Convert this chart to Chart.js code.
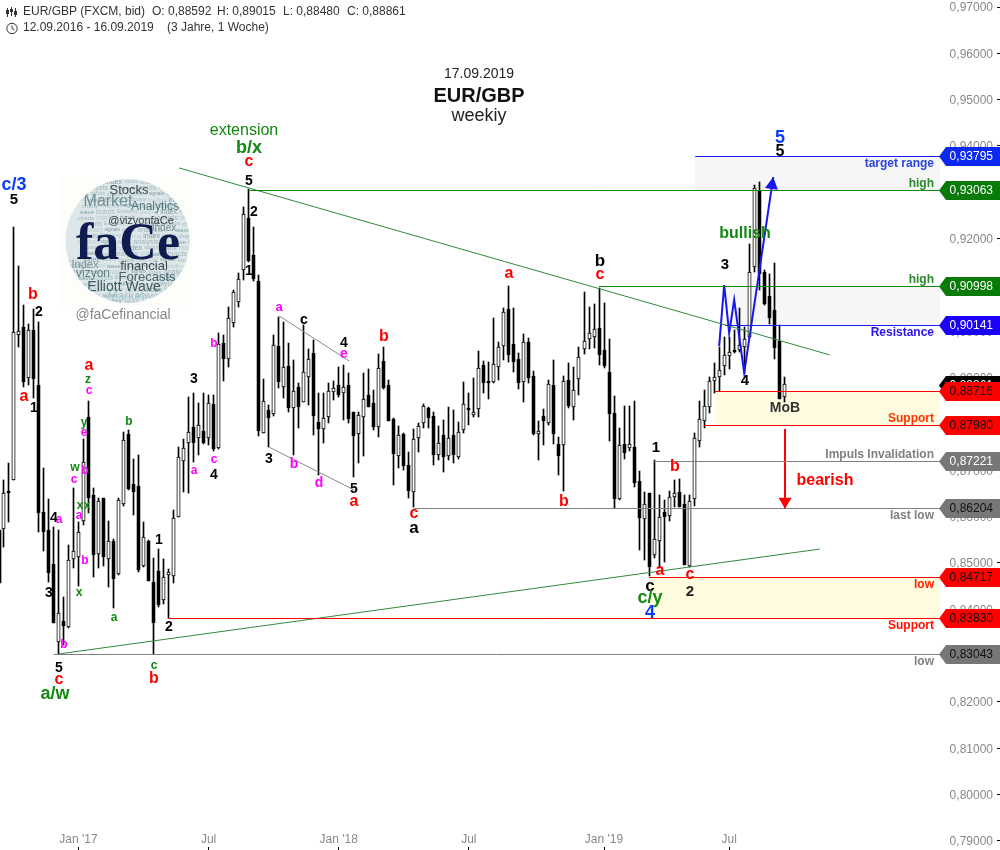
<!DOCTYPE html>
<html>
<head>
<meta charset="utf-8">
<title>EUR/GBP weekly</title>
<script src="https://cdn.jsdelivr.net/npm/chart.js@4/dist/chart.umd.min.js"></script>
<style>html,body{margin:0;padding:0;background:#fff}canvas{display:block}</style>
</head>
<body>
<canvas id="c" width="1000" height="850"></canvas>
<script>
const highs = [
0.8571,0.8679,0.8716,0.9226,0.9141,0.9057,0.9016,0.9049,0.9021,0.8705,
0.8638,0.8578,0.8571,0.8427,0.8539,0.8662,0.8589,0.8767,0.8850,0.8662,
0.8640,0.8640,0.8591,0.8552,0.8640,0.8783,0.8787,0.8725,0.8733,0.8589,
0.8550,0.8510,0.8530,0.8508,0.8487,0.8614,0.8750,0.8767,0.8858,0.8867,
0.8846,0.8867,0.8863,0.8863,0.8997,0.8992,0.9053,0.9089,0.9126,0.9269,
0.93063,0.9226,0.9122,0.8898,0.8841,0.8992,0.9031,0.9021,0.8975,0.8938,
0.8889,0.9014,0.8962,0.8981,0.8867,0.8867,0.8889,0.8893,0.8923,0.8927,
0.8911,0.8826,0.8826,0.8911,0.8919,0.8873,0.8951,0.8966,0.8895,0.8813,
0.8796,0.8780,0.8740,0.8789,0.8802,0.8843,0.8836,0.8826,0.8796,0.8809,
0.8836,0.8830,0.8804,0.8891,0.8867,0.8900,0.8958,0.8936,0.8934,0.9029,
0.8977,0.9051,0.9098,0.9051,0.8954,0.8995,0.8985,0.8915,0.8806,0.8832,
0.8895,0.8938,0.8772,0.8904,0.8932,0.8923,0.8966,0.9085,0.9053,0.9059,
0.9094,0.9062,0.8983,0.8860,0.8791,0.8839,0.8839,0.8850,0.8699,0.8653,
0.8651,0.8722,0.8646,0.8636,0.8655,0.8679,0.8681,0.8646,0.8646,0.8780,
0.8850,0.8873,0.8902,0.8932,0.8966,0.8988,0.8988,0.9003,0.9051,0.9010,
0.9188,0.9316,0.9322,0.9132,0.9124,0.9148,0.9014,0.89015];
const opens = [
0.8517,0.8574,0.8655,0.8679,0.8992,0.9010,0.8900,0.9003,0.8884,0.8610,
0.8571,0.8497,0.8330,0.8375,0.8362,0.8508,0.8513,0.8591,0.8815,0.8646,
0.8519,0.8640,0.8508,0.8548,0.8476,0.8627,0.8778,0.8670,0.8666,0.8493,
0.8548,0.8459,0.8483,0.8420,0.8474,0.8472,0.8599,0.8720,0.8759,0.8793,
0.8769,0.8785,0.8769,0.8843,0.8748,0.8975,0.8940,0.9018,0.9064,0.9132,
0.9245,0.9165,0.9109,0.8780,0.8830,0.8822,0.8969,0.8880,0.8925,0.8834,
0.8880,0.8848,0.8902,0.8954,0.8804,0.8789,0.8815,0.8869,0.8884,0.8867,
0.8884,0.8826,0.8778,0.8815,0.8863,0.8846,0.8793,0.8936,0.8884,0.8811,
0.8731,0.8778,0.8711,0.8653,0.8769,0.8802,0.8834,0.8817,0.8733,0.8776,
0.8731,0.8776,0.8729,0.8787,0.8834,0.8819,0.8832,0.8927,0.8893,0.8891,
0.8923,0.8969,0.9049,0.8973,0.8940,0.8891,0.8977,0.8904,0.8778,0.8817,
0.8802,0.8884,0.8757,0.8755,0.8895,0.8836,0.8898,0.8962,0.8983,0.8988,
0.9008,0.8960,0.8913,0.8824,0.8638,0.8757,0.8748,0.8750,0.8677,0.8595,
0.8651,0.8517,0.8548,0.8610,0.8601,0.8642,0.8653,0.8627,0.8493,0.8638,
0.8763,0.8806,0.8836,0.8893,0.8902,0.8925,0.8947,0.8960,0.8960,0.8966,
0.8988,0.9139,0.9303,0.9128,0.9076,0.9046,0.8979,0.88592];
const closes = [
0.8550,0.8651,0.8653,0.8999,0.9001,0.8891,0.9003,0.8898,0.8608,0.8567,
0.8479,0.8371,0.8392,0.8364,0.8506,0.8526,0.8567,0.8718,0.8640,0.8517,
0.8634,0.8513,0.8548,0.8465,0.8636,0.8765,0.8659,0.8653,0.8485,0.8556,
0.8461,0.8371,0.8409,0.8470,0.8481,0.8597,0.8729,0.8748,0.8783,0.8759,
0.8798,0.8759,0.8846,0.8746,0.8973,0.8940,0.9029,0.9085,0.9113,0.9253,
0.9152,0.9113,0.8785,0.8850,0.8813,0.8971,0.8891,0.8923,0.8834,0.8871,
0.8836,0.8913,0.8940,0.8817,0.8789,0.8813,0.8871,0.8878,0.8863,0.8880,
0.8811,0.8774,0.8819,0.8854,0.8836,0.8793,0.8921,0.8878,0.8806,0.8735,
0.8776,0.8709,0.8655,0.8767,0.8796,0.8839,0.8813,0.8733,0.8759,0.8729,
0.8769,0.8733,0.8783,0.8843,0.8832,0.8826,0.8921,0.8889,0.8889,0.8930,
0.8966,0.9042,0.8949,0.8934,0.8889,0.8977,0.8900,0.8778,0.8785,0.8806,
0.8887,0.8778,0.8731,0.8893,0.8839,0.8873,0.8945,0.8979,0.8997,0.9005,
0.8949,0.8925,0.8822,0.8638,0.8754,0.8737,0.8757,0.8672,0.8597,0.8627,
0.8491,0.8552,0.8599,0.8599,0.8642,0.8651,0.8621,0.8495,0.8634,0.8769,
0.8811,0.8839,0.8893,0.8902,0.8917,0.8949,0.8956,0.8956,0.8971,0.8983,
0.9128,0.9309,0.9124,0.9059,0.9029,0.8964,0.8854,0.88861];
const lows = [
0.8457,0.8535,0.8589,0.8678,0.8966,0.8880,0.8884,0.8856,0.8567,0.8526,
0.8459,0.8370,0.8304,0.8323,0.8360,0.8489,0.8450,0.8582,0.8608,0.8470,
0.8489,0.8493,0.8448,0.8403,0.8474,0.8623,0.8657,0.8603,0.8481,0.8491,
0.8461,0.8304,0.8405,0.8411,0.8381,0.8457,0.8599,0.8653,0.8651,0.8718,
0.8733,0.8757,0.8754,0.8742,0.8746,0.8893,0.8923,0.9010,0.9053,0.9111,
0.9150,0.9109,0.8774,0.8780,0.8750,0.8817,0.8878,0.8856,0.8826,0.8733,
0.8791,0.8848,0.8841,0.8776,0.8690,0.8759,0.8802,0.8852,0.8858,0.8809,
0.8802,0.8686,0.8716,0.8731,0.8836,0.8787,0.8772,0.8876,0.8806,0.8668,
0.8705,0.8701,0.8640,0.8621,0.8740,0.8791,0.8791,0.8711,0.8722,0.8696,
0.8722,0.8716,0.8725,0.8780,0.8798,0.8815,0.8815,0.8867,0.8854,0.8889,
0.8895,0.8938,0.8934,0.8913,0.8876,0.8848,0.8889,0.8776,0.8722,0.8755,
0.8798,0.8757,0.8690,0.8655,0.8834,0.8809,0.8863,0.8951,0.8962,0.8964,
0.8927,0.8921,0.8763,0.8619,0.8636,0.8725,0.8742,0.8664,0.8528,0.8506,
0.8472,0.8510,0.8489,0.8502,0.8591,0.8621,0.8621,0.8495,0.8491,0.8623,
0.8750,0.8791,0.8824,0.8867,0.8871,0.8906,0.8919,0.8954,0.8956,0.8911,
0.8985,0.9128,0.9089,0.9057,0.9016,0.8940,0.8854,0.8848];

const xTickBars = [16,42,68,94,121,146];
const xTickNames = ["Jan '17","Jul","Jan '18","Jul","Jan '19","Jul"];
const yTicks = [0.79,0.80,0.81,0.82,0.83,0.84,0.85,0.86,0.87,0.88,0.89,0.90,0.91,0.92,0.93,0.94,0.95,0.96,0.97];

const levelPrices = [0.93795,0.93063,0.90998,0.90141,0.88716,0.87980,0.87221,0.86204,0.84717,0.83830,0.83043];
const levelStarts = [139.2,50,120,145.2,143.2,141,131,83,130,34,11];
const levelEnd = 188.1;
const levelColors = ['#1a1aff','#0a8a0a','#0a8a0a','#1a1aff','#ff0000','#ff0000','#808080','#808080','#ff0000','#ff0000','#808080'];
const levelTagFill = ['#0a28f0','#087a08','#087a08','#1a00f5','#ff0000','#ff0000','#777777','#777777','#ff0000','#ff0000','#777777'];
const levelTagText = ['#fff','#fff','#fff','#fff','#111','#111','#fff','#111','#111','#111','#111'];
const levelNotes = ['target range','high','high','Resistance','','Support','Impuls Invalidation','last low','low','Support','low'];
const noteColors = ['#2a44e0','#2b8a2b','#2b8a2b','#2a12ee','#ff3300','#ff3300','#808080','#808080','#ff2200','#ff1100','#808080'];
const noteOffsets = [7,-7,-7,7,0,-7,-7,7,7,7,7];

const zones = [
  {from:139.2,to:188.1,top:0.93795,bottom:0.93063,color:'#f6f6f6'},
  {from:145.2,to:188.1,top:0.90998,bottom:0.90141,color:'#f6f6f6'},
  {from:143.2,to:188.1,top:0.88716,bottom:0.87980,color:'#fefbdf'},
  {from:130,  to:188.1,top:0.84717,bottom:0.83830,color:'#fefbdf'}
];
const upperTrendX = [36.1,166.1], upperTrendY = [0.93526,0.8949];
const lowerTrendX = [12.1,164.1], lowerTrendY = [0.83036,0.8530];
const wedgeTopX = [56.1,70.1], wedgeTopY = [0.90332,0.8936];
const wedgeBottomX = [54.1,71.2], wedgeBottomY = [0.8750,0.8657];
const bullPathX = [144,145,146,147,149,154.8], bullPathY = [0.8968,0.9100,0.8996,0.9068,0.8910,0.9333];
const bearPathX = [157.15,157.15], bearPathY = [0.8789,0.8617];

const BLK='#000',RED='#ff0000',MAG='#ff00ff',GRN='#118811',BLU='#0a3cff';
const waveLabels = [
 ['extension',244,131,GRN,16,0],['b/x',249,148,GRN,18,1],['c',249,162,RED,16,1],['5',249,181,BLK,14,1],
 ['c/3',14,185,BLU,18,1],['5',14,200,BLK,15,1],['b',33,295,RED,16,1],['2',39,312,BLK,14,1],['a',24,397,RED,16,1],['1',34,408,BLK,14,1],
 ['a',89,366,RED,16,1],['z',88,380,GRN,12,1],['c',89,391,MAG,12,1],['y',84,423,GRN,12,1],['e',84,433,MAG,12,1],
 ['b',85,471,MAG,12,1],['w',75,468,GRN,12,1],['c',74,480,MAG,12,1],['x',80,506,GRN,12,1],['x',87,506,GRN,12,1],['a',79,516,MAG,12,1],
 ['4',54,518,BLK,14,1],['a',59,520,MAG,12,1],['3',49,593,BLK,14,1],['b',64,645,MAG,12,1],['b',85,561,MAG,12,1],['x',79,593,GRN,12,1],
 ['a',114,618,GRN,12,1],['b',129,422,GRN,12,1],['1',159,540,BLK,14,1],['2',169,627,BLK,14,1],['5',59,668,BLK,14,1],['c',59,680,RED,16,1],
 ['a/w',55,694,GRN,18,1],['c',154,666,GRN,12,1],['b',154,679,RED,16,1],['3',194,379,BLK,14,1],['a',194,471,MAG,12,1],['c',214,460,MAG,12,1],
 ['4',214,475,BLK,14,1],['b',214,344,MAG,12,1],['2',254,212,BLK,14,1],['1',249,271,BLK,14,1],
 ['a',279,307,MAG,13,1],['c',304,320,BLK,14,1],['4',344,343,BLK,14,1],['e',344,354,MAG,14,1],['b',384,337,RED,16,1],['3',269,459,BLK,14,1],
 ['b',294,464,MAG,14,1],['d',319,483,MAG,14,1],['5',354,489,BLK,14,1],['a',354,502,RED,16,1],
 ['a',509,274,RED,16,1],['b',600,261,BLK,17,1],['c',600,275,RED,16,1],['b',564,502,RED,16,1],['c',414,514,RED,16,1],['a',414,528,BLK,17,1],
 ['1',656,448,BLK,15,1],['b',675,467,RED,16,1],['a',660,571,RED,16,1],['c',690,575,RED,16,1],['2',690,592,'#222',15,1],['c',650,586,BLK,17,1],
 ['c/y',650,598,GRN,18,1],['4',650,613,BLU,18,1],
 ['5',780,138,BLU,18,1],['5',780,152,BLK,16,1],['bullish',745,234,GRN,16,1],['3',725,265,BLK,15,1],['4',745,381,BLK,15,1],['MoB',785,408,'#333',14,1],['bearish',825,481,RED,16,1]
];
const titleLines = [['17.09.2019',479,74,'#222',14,0],['EUR/GBP',479,96,'#111',20,1],['weekiy',479,116,'#222',18,0]];
const headerLines = [
 ['EUR/GBP (FXCM, bid)',23,12],['O: 0,88592',152,12],['H: 0,89015',217,12],['L: 0,88480',283,12],['C: 0,88861',347,12],
 ['12.09.2016 - 16.09.2019',23,28],['(3 Jahre, 1 Woche)',167,28]
];
const cloudWords = [
 ['Stocks',129,190,13,'#3a4a50'],['Market',108,202,16,'#6e8e94'],['Analytics',155,207,12,'#52767e'],['@vizyonfaCe',141,221,11,'#333d44'],
 ['financial',144,266,13,'#3a4a50'],['Forecasts',147,277,13,'#47636a'],['vizyon',93,274,12,'#5f7f86'],['Elliott Wave',124,287,14,'#3e5a60'],
 ['Market',126,297,12,'#a8c8d0'],['Index',85,265,11,'#7a969c'],['Index',164,228,10,'#6f8c92']
];
const cloudFiller = ['Economy','trading','index','stocks','charts','market','signals','forex','analysis','gold','wave','bonds'];

const SANS = '"Liberation Sans", Arial, sans-serif';
const fontOf = (size,bold) => (bold?'bold ':'')+size+'px '+SANS;
const xy = (xs,ys) => xs.map((x,i)=>({x,y:ys[i]}));
const upBar = i => closes[i] >= opens[i];
const rowOf = py => Math.ceil(py)+0.5;

const lineSet = (label,data,color,width,snap) => ({type:'line',label,data,borderColor:color,borderWidth:width,pointRadius:0,tension:0,fill:false,order:1,snapLine:!!snap});

const datasets = [
  {type:'bar',label:'wicks',data:highs.map((h,i)=>({x:i,y:[lows[i],h]})),backgroundColor:'#000',borderWidth:0,barThickness:1,barPercentage:1,categoryPercentage:1,grouped:false,order:3},
  {type:'bar',label:'bodies',data:opens.map((o,i)=>({x:i,y:[Math.min(o,closes[i]),Math.max(o,closes[i])]})),
    backgroundColor:c=>upBar(c.dataIndex)?'#fff':'#000',borderColor:'#000',borderWidth:1,borderSkipped:false,barThickness:3.4,barPercentage:1,categoryPercentage:1,grouped:false,order:2},
  ...levelPrices.map((p,k)=>lineSet('level'+k,[{x:levelStarts[k],y:p},{x:levelEnd,y:p}],levelColors[k],1,true)),
  lineSet('upperTrend',xy(upperTrendX,upperTrendY),'#2f8a3a',1),
  lineSet('lowerTrend',xy(lowerTrendX,lowerTrendY),'#2f8a3a',1),
  lineSet('wedgeTop',xy(wedgeTopX,wedgeTopY),'#8a8a8a',1),
  lineSet('wedgeBottom',xy(wedgeBottomX,wedgeBottomY),'#8a8a8a',1),
  lineSet('bullPath',xy(bullPathX,bullPathY),'#1616ee',2),
  lineSet('bearPath',xy(bearPathX,bearPathY),'#ff0000',2)
];

const snapPlugin = {
  id:'snap',
  afterDatasetsUpdate(chart){
    chart.data.datasets.forEach((ds,n)=>{
      const meta = chart.getDatasetMeta(n);
      if (ds.type==='bar') meta.data.forEach(el=>{
        let x = Math.floor(el.x)+0.5;
        if (ds.label==='wicks' && x<0) x = 0.5;
        el.x = x; el.y = Math.round(el.y); el.base = Math.round(el.base);
        el.width = ds.barThickness;
        if (ds.label==='bodies' && el.base-el.y<2 ) el.base = el.y+2;
      });
      if (ds.snapLine) meta.data.forEach(p=>{ p.y = rowOf(p.y); });
    });
  },
  beforeDraw(chart){
    chart.scales.y.getLabelItems().forEach(it=>{ it.options.translation[1]+=1; });
  }
};

const zonePlugin = {
  id:'zones',
  beforeDatasetsDraw(chart){
    const {ctx,scales:{x,y}} = chart;
    zones.forEach(z=>{
      const l=x.getPixelForValue(z.from), r=x.getPixelForValue(z.to), t=rowOf(y.getPixelForValue(z.top)), b=rowOf(y.getPixelForValue(z.bottom));
      ctx.fillStyle=z.color; ctx.fillRect(l,t,r-l,b-t);
    });
  }
};

function arrowHead(ctx,x0,y0,x1,y1,len,half,color){
  const d=Math.hypot(x1-x0,y1-y0), ux=(x1-x0)/d, uy=(y1-y0)/d;
  ctx.fillStyle=color; ctx.beginPath(); ctx.moveTo(x1,y1);
  ctx.lineTo(x1-ux*len-uy*half,y1-uy*len+ux*half);
  ctx.lineTo(x1-ux*len+uy*half,y1-uy*len-ux*half);
  ctx.closePath(); ctx.fill();
}
function put(ctx,text,x,y,color,size,bold,align){
  ctx.font=fontOf(size,bold); ctx.fillStyle=color; ctx.textAlign=align||'center'; ctx.textBaseline='middle';
  ctx.fillText(text,x,y);
}
function drawLogo(ctx){
  const cx=127.5,cy=241,r=62;
  ctx.save();
  ctx.fillStyle='#fdfdfa'; ctx.fillRect(60,178,132,127);
  ctx.beginPath(); ctx.arc(cx,cy,r,0,Math.PI*2); ctx.fillStyle='#dde7e9'; ctx.fill(); ctx.clip();
  const tints=['#9db8be','#b9cdd1','#7f9fa6','#a7bdc2'];
  let n=0;
  for(let yy=182;yy<304;yy+=6){
    let xx=62+(n*7)%22;
    while(xx<192){
      const w=cloudFiller[n%cloudFiller.length];
      put(ctx,w,xx,yy,tints[n%4],5+(n%3),0,'left');
      xx+=ctx.measureText(w).width+2; n++;
    }
  }
  cloudWords.forEach(w=>put(ctx,w[0],w[1],w[2],w[4],w[3],0));
  ctx.font='bold 52px "Liberation Serif", serif'; ctx.fillStyle='#0f1c50'; ctx.textAlign='center'; ctx.textBaseline='alphabetic';
  ctx.fillText('faCe',128,259);
  ctx.restore();
  put(ctx,'@faCefinancial',123,315,'#888888',14,0);
}
function drawIcons(ctx){
  ctx.strokeStyle='#333'; ctx.lineWidth=1; ctx.fillStyle='#333';
  [[7.5,8,17,10,14],[11.5,7,16,9,12],[15.5,8,17,11,15]].forEach((b,k)=>{
    ctx.beginPath(); ctx.moveTo(b[0],b[1]); ctx.lineTo(b[0],b[2]); ctx.stroke();
    ctx.fillRect(b[0]-1.5,b[3],3,b[4]-b[3]);
  });
  ctx.beginPath(); ctx.arc(12,28.5,5.2,0,Math.PI*2); ctx.stroke();
  ctx.beginPath(); ctx.moveTo(12,25.5); ctx.lineTo(12,28.5); ctx.lineTo(14.5,30); ctx.stroke();
}

const overlayPlugin = {
  id:'overlay',
  afterDraw(chart){
    const {ctx,scales:{x,y}} = chart;
    ctx.save();
    drawLogo(ctx);
    drawIcons(ctx);
    headerLines.forEach(t=>put(ctx,t[0],t[1],t[2],'#333',12,0,'left'));
    titleLines.forEach(t=>put(ctx,t[0],t[1],t[2],t[3],t[4],t[5]));
    const n=bullPathX.length-1;
    arrowHead(ctx,x.getPixelForValue(bullPathX[n-1]),y.getPixelForValue(bullPathY[n-1]),x.getPixelForValue(bullPathX[n]),y.getPixelForValue(bullPathY[n]),12,6.5,'#1616ee');
    arrowHead(ctx,x.getPixelForValue(bearPathX[0]),y.getPixelForValue(bearPathY[0]),x.getPixelForValue(bearPathX[1]),y.getPixelForValue(bearPathY[1]),11,6.5,'#ff0000');
    waveLabels.forEach(t=>put(ctx,t[0],t[1],t[2],t[3],t[4],t[5]));
    const tag=(price,fill,ink)=>{
      const py=rowOf(y.getPixelForValue(price));
      ctx.fillStyle=fill; ctx.beginPath();
      ctx.moveTo(939,py); ctx.lineTo(946,py-9.5); ctx.lineTo(1000,py-9.5); ctx.lineTo(1000,py+9.5); ctx.lineTo(946,py+9.5); ctx.closePath(); ctx.fill();
      put(ctx,price.toFixed(5).replace('.',','),993,py+0.5,ink,12,0,'right');
    };
    tag(closes[closes.length-1],'#000','#fff');
    levelPrices.forEach((p,k)=>{
      tag(p,levelTagFill[k],levelTagText[k]);
      const py=rowOf(y.getPixelForValue(p));
      if (levelNotes[k]) put(ctx,levelNotes[k],934,py+noteOffsets[k],noteColors[k],12,1,'right');
    });
    ctx.restore();
  }
};

const noScalePadding = s => { s.paddingTop=0; s.paddingBottom=0; s.paddingLeft=0; s.paddingRight=0; };

new Chart(document.getElementById('c'),{
  type:'bar',
  data:{datasets},
  plugins:[snapPlugin,zonePlugin,overlayPlugin],
  options:{
    responsive:false,animation:false,
    layout:{padding:0,autoPadding:false},
    plugins:{legend:{display:false},title:{display:false},tooltip:{enabled:false}},
    scales:{
      x:{type:'linear',position:'bottom',offset:false,min:0.34,max:199.5,
        afterBuildTicks(s){ s.ticks = xTickBars.map(v=>({value:v})); },
        afterFit(s){ s.height=3; noScalePadding(s); },
        border:{display:false},
        grid:{drawOnChartArea:false,drawTicks:true,tickLength:3,tickColor:'#000',offset:false},
        ticks:{autoSkip:false,maxRotation:0,mirror:true,padding:0,color:'#888888',font:{family:SANS,size:12},
          callback:v=>xTickNames[xTickBars.indexOf(v)]}
      },
      y:{type:'linear',position:'right',min:0.788692,max:0.971511,
        afterBuildTicks(s){ s.ticks = yTicks.map(v=>({value:v})); },
        afterFit(s){ s.width=3; noScalePadding(s); },
        border:{display:false},
        grid:{drawOnChartArea:false,drawTicks:true,tickLength:3,tickColor:'#000'},
        ticks:{mirror:true,padding:-4,color:'#888888',font:{family:SANS,size:12},
          callback:v=>v.toFixed(5).replace('.',',')}
      }
    }
  }
});
</script>
</body>
</html>
